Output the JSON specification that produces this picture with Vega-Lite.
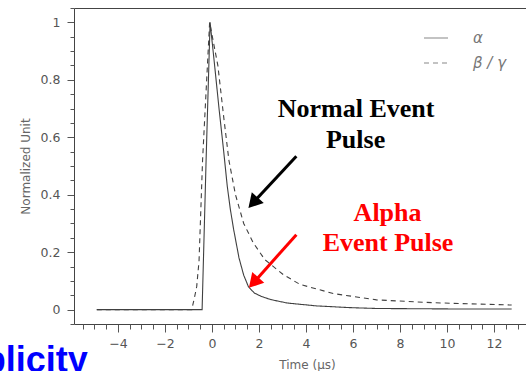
{
  "$schema": "https://vega.github.io/schema/vega-lite/v6.json",
  "width": 452,
  "height": 316,
  "autosize": {"type": "none"},
  "padding": {"left": 74, "top": 8, "right": 0, "bottom": 47},
  "background": "white",
  "view": {"stroke": null},
  "config": {
    "axis": {
      "grid": false,
      "domainColor": "#444444",
      "domainWidth": 1,
      "tickColor": "#555555",
      "tickWidth": 1,
      "labelFont": "DejaVu Sans",
      "labelFontSize": 12.5,
      "labelColor": "#555555",
      "labelFlush": false,
      "labelOverlap": false,
      "titleFont": "DejaVu Sans",
      "titleFontSize": 12,
      "titleFontWeight": "normal",
      "titleColor": "#666666"
    }
  },
  "datasets": {
    "pulses": [
      {"t": -4.9, "v": 0, "series": "α"},
      {"t": -0.42, "v": 0, "series": "α"},
      {"t": -0.25, "v": 0.52, "series": "α"},
      {"t": -0.08, "v": 1.0, "series": "α"},
      {"t": 0.1, "v": 0.86, "series": "α"},
      {"t": 0.3, "v": 0.7, "series": "α"},
      {"t": 0.5, "v": 0.55, "series": "α"},
      {"t": 0.65, "v": 0.43, "series": "α"},
      {"t": 0.78, "v": 0.35, "series": "α"},
      {"t": 0.92, "v": 0.28, "series": "α"},
      {"t": 1.15, "v": 0.18, "series": "α"},
      {"t": 1.35, "v": 0.12, "series": "α"},
      {"t": 1.55, "v": 0.08, "series": "α"},
      {"t": 1.8, "v": 0.058, "series": "α"},
      {"t": 2.1, "v": 0.046, "series": "α"},
      {"t": 2.5, "v": 0.035, "series": "α"},
      {"t": 3.2, "v": 0.023, "series": "α"},
      {"t": 4.45, "v": 0.013, "series": "α"},
      {"t": 5.87, "v": 0.007, "series": "α"},
      {"t": 7.0, "v": 0.004, "series": "α"},
      {"t": 9.0, "v": 0.003, "series": "α"},
      {"t": 11.0, "v": 0.002, "series": "α"},
      {"t": 12.75, "v": 0.002, "series": "α"},
      {"t": -4.9, "v": 0, "series": "β / γ"},
      {"t": -0.86, "v": 0, "series": "β / γ"},
      {"t": -0.75, "v": 0.04, "series": "β / γ"},
      {"t": -0.65, "v": 0.08, "series": "β / γ"},
      {"t": -0.55, "v": 0.17, "series": "β / γ"},
      {"t": -0.4, "v": 0.52, "series": "β / γ"},
      {"t": -0.1, "v": 1.0, "series": "β / γ"},
      {"t": 0.25, "v": 0.85, "series": "β / γ"},
      {"t": 0.5, "v": 0.67, "series": "β / γ"},
      {"t": 0.72, "v": 0.52, "series": "β / γ"},
      {"t": 1.0, "v": 0.4, "series": "β / γ"},
      {"t": 1.35, "v": 0.3, "series": "β / γ"},
      {"t": 1.76, "v": 0.232, "series": "β / γ"},
      {"t": 2.25, "v": 0.174, "series": "β / γ"},
      {"t": 3.03, "v": 0.122, "series": "β / γ"},
      {"t": 3.74, "v": 0.088, "series": "β / γ"},
      {"t": 5.16, "v": 0.056, "series": "β / γ"},
      {"t": 7.0, "v": 0.034, "series": "β / γ"},
      {"t": 9.42, "v": 0.024, "series": "β / γ"},
      {"t": 12.75, "v": 0.016, "series": "β / γ"}
    ],
    "notes": [
      {"label": "Normal Event", "t": 6.13, "v": 0.672, "kind": "normal"},
      {"label": "Pulse", "t": 6.11, "v": 0.564, "kind": "normal"},
      {"label": "Alpha", "t": 7.47, "v": 0.31, "kind": "alpha"},
      {"label": "Event Pulse", "t": 7.49, "v": 0.203, "kind": "alpha"}
    ],
    "shafts": [
      {"kind": "normal", "t": 3.59, "v": 0.534, "t2": 1.75, "v2": 0.372},
      {"kind": "alpha", "t": 3.59, "v": 0.261, "t2": 1.77, "v2": 0.094}
    ],
    "heads": [
      {"kind": "normal", "t": 1.75, "v": 0.372},
      {"kind": "alpha", "t": 1.77, "v": 0.094}
    ],
    "slide": [
      {"label": "plicity", "t": -5.28, "v": -0.216}
    ]
  },
  "resolve": {"axis": {"x": "independent", "y": "independent"}},
  "layer": [
    {
      "data": {"name": "pulses"},
      "mark": {"type": "line", "stroke": "#404040", "strokeWidth": 1.1},
      "encoding": {
        "x": {
          "field": "t", "type": "quantitative",
          "scale": {"domain": [-5.87, 13.36], "nice": false, "zero": false},
          "axis": {
            "orient": "bottom",
            "values": [-4, -2, 0, 2, 4, 6, 8, 10, 12],
            "format": "~g",
            "tickSize": 8,
            "labelPadding": 5,
            "title": "Time (μs)",
            "titleX": 233,
            "titleY": 40,
            "titleBaseline": "middle",
            "titleAnchor": "middle"
          }
        },
        "y": {
          "field": "v", "type": "quantitative",
          "scale": {"domain": [-0.05, 1.05], "nice": false, "zero": false},
          "axis": {
            "orient": "left",
            "values": [0, 0.2, 0.4, 0.6, 0.8, 1],
            "format": "~g",
            "tickSize": 7,
            "labelPadding": 7,
            "title": "Normalized Unit",
            "titlePadding": 8
          }
        },
        "strokeDash": {
          "field": "series", "type": "nominal",
          "scale": {"domain": ["α", "β / γ"], "range": [[1, 0], [5, 4]]},
          "legend": {
            "title": null,
            "orient": "none",
            "legendX": 349,
            "legendY": 17,
            "padding": 0,
            "symbolType": "stroke",
            "symbolSize": 576,
            "symbolStrokeWidth": 1.2,
            "symbolStrokeColor": "#888888",
            "labelFont": "DejaVu Sans",
            "labelFontStyle": "italic",
            "labelFontSize": 15,
            "labelColor": "#777777",
            "labelOffset": 24,
            "rowPadding": 4
          }
        }
      }
    },
    {
      "data": {"name": "notes"},
      "mark": {"type": "text", "font": "Liberation Serif", "fontWeight": "bold", "fontSize": 26, "align": "center", "baseline": "alphabetic"},
      "encoding": {
        "x": {
          "field": "t", "type": "quantitative",
          "scale": {"domain": [-5.87, 13.36], "nice": false, "zero": false},
          "axis": {
            "orient": "bottom",
            "values": [-5.5, -5, -4.5, -3.5, -3, -2.5, -1.5, -1, -0.5, 0.5, 1, 1.5, 2.5, 3, 3.5, 4.5, 5, 5.5, 6.5, 7, 7.5, 8.5, 9, 9.5, 10.5, 11, 11.5, 12.5, 13],
            "tickSize": 5,
            "labels": false,
            "domain": false,
            "title": null
          }
        },
        "y": {
          "field": "v", "type": "quantitative",
          "scale": {"domain": [-0.05, 1.05], "nice": false, "zero": false},
          "axis": {
            "orient": "left",
            "values": [-0.05, 0.05, 0.1, 0.15, 0.25, 0.3, 0.35, 0.45, 0.5, 0.55, 0.65, 0.7, 0.75, 0.85, 0.9, 0.95, 1.05],
            "tickSize": 4,
            "labels": false,
            "domain": false,
            "title": null
          }
        },
        "text": {"field": "label"},
        "color": {
          "field": "kind", "type": "nominal",
          "scale": {"domain": ["normal", "alpha"], "range": ["#000000", "#ff0000"]},
          "legend": null
        }
      }
    },
    {
      "data": {"name": "shafts"},
      "mark": {"type": "rule", "strokeWidth": 3},
      "encoding": {
        "x": {
          "field": "t", "type": "quantitative",
          "scale": {"domain": [-5.87, 13.36], "nice": false, "zero": false},
          "axis": {"orient": "top", "ticks": false, "labels": false, "title": null, "domain": true}
        },
        "y": {
          "field": "v", "type": "quantitative",
          "scale": {"domain": [-0.05, 1.05], "nice": false, "zero": false},
          "axis": null
        },
        "x2": {"field": "t2"},
        "y2": {"field": "v2"},
        "color": {"field": "kind", "type": "nominal", "legend": null}
      }
    },
    {
      "data": {"name": "heads"},
      "mark": {"type": "point", "shape": "triangle-up", "filled": true, "size": 260, "angle": 222, "opacity": 1},
      "encoding": {
        "x": {
          "field": "t", "type": "quantitative",
          "scale": {"domain": [-5.87, 13.36], "nice": false, "zero": false},
          "axis": null
        },
        "y": {
          "field": "v", "type": "quantitative",
          "scale": {"domain": [-0.05, 1.05], "nice": false, "zero": false},
          "axis": null
        },
        "color": {"field": "kind", "type": "nominal", "legend": null}
      }
    },
    {
      "data": {"name": "slide"},
      "mark": {"type": "text", "font": "Liberation Sans", "fontWeight": "bold", "fontSize": 36, "align": "right", "baseline": "alphabetic", "color": "#0000ff"},
      "encoding": {
        "x": {
          "field": "t", "type": "quantitative",
          "scale": {"domain": [-5.87, 13.36], "nice": false, "zero": false},
          "axis": null
        },
        "y": {
          "field": "v", "type": "quantitative",
          "scale": {"domain": [-0.05, 1.05], "nice": false, "zero": false},
          "axis": null
        },
        "text": {"field": "label"}
      }
    }
  ]
}
